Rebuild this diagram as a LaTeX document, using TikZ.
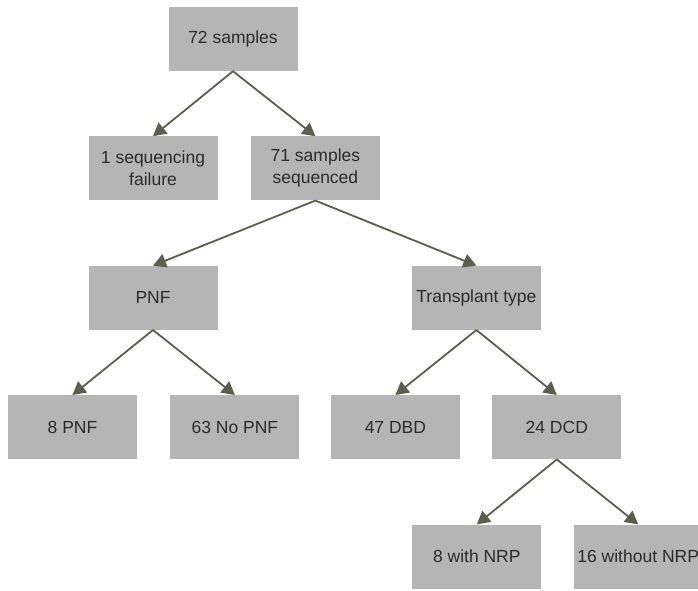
\documentclass[tikz,border=0pt]{standalone}
\usepackage{fontspec}
\setmainfont{Liberation Sans}
\usetikzlibrary{arrows.meta,positioning}

\definecolor{boxgray}{HTML}{B5B5B5}
\definecolor{linkolive}{HTML}{5B5E4C}
\definecolor{textdark}{HTML}{2B2B2B}

\begin{document}
\begin{tikzpicture}[
    x=1pt, y=1pt,
    box/.style={rectangle, fill=boxgray, minimum width=129pt, minimum height=64pt,
        align=center, text=textdark, inner sep=2pt,
        font=\fontsize{17.5pt}{22pt}\selectfont},
    arrow/.style={-{Triangle[length=13pt,width=14pt]}, draw=linkolive, fill=linkolive, line width=1.8pt}
]
\useasboundingbox (0,0) rectangle (698,-591);

% Nodes
\node[box] (root) at (233,-39) {72 samples};
\node[box, below=65pt of root, xshift=-80pt] (fail) {1 sequencing\\failure};
\node[box, right=33pt of fail] (seq) {71 samples\\sequenced};
\node[box, below=65pt of fail] (pnf) {PNF};
\node[box, right=194pt of pnf] (txtype) {Transplant type};
\node[box, below=65pt of pnf, xshift=-80.5pt] (pnfyes) {8 PNF};
\node[box, right=33pt of pnfyes] (pnfno) {63 No PNF};
\node[box, below=65pt of txtype, xshift=-81pt] (dbd) {47 DBD};
\node[box, right=32pt of dbd] (dcd) {24 DCD};
\node[box, below=65pt of dcd, xshift=-80pt] (nrp) {8 with NRP};
\node[box, right=32pt of nrp] (nonrp) {16 without NRP};

% Arrows
\draw[arrow] (root.south) -- (fail.north);
\draw[arrow] (root.south) -- (seq.north);
\draw[arrow] (seq.south) -- (pnf.north);
\draw[arrow] (seq.south) -- (txtype.north);
\draw[arrow] (pnf.south) -- (pnfyes.north);
\draw[arrow] (pnf.south) -- (pnfno.north);
\draw[arrow] (txtype.south) -- (dbd.north);
\draw[arrow] (txtype.south) -- (dcd.north);
\draw[arrow] (dcd.south) -- (nrp.north);
\draw[arrow] (dcd.south) -- (nonrp.north);

\end{tikzpicture}
\end{document}
